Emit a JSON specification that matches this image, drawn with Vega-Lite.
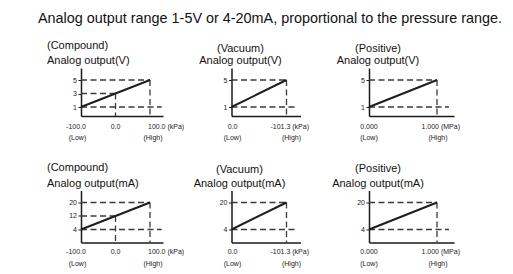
{
  "$schema": "https://vega.github.io/schema/vega-lite/v6.json",
  "padding": {"left": 38, "top": 10, "right": 5, "bottom": 4},
  "title": {"text": "Analog output range 1-5V or 4-20mA, proportional to the pressure range.", "fontSize": 14.4, "anchor": "start", "dx": -43, "offset": 13.5, "color": "#111", "fontWeight": "normal"},
  "columns": 3,
  "bounds": "flush",
  "spacing": {"column": 68.5, "row": 74.5},
  "concat": [
    {
      "width": 82, "height": 48,
      "title": {"text": "(Compound)", "subtitle": "Analog output(V)", "anchor": "start", "align": "left", "dx": -34, "subtitlePadding": 4.5},
      "layer": [
        {"data": {"values": [{"v": 5, "p0": -100, "p1": 100}, {"v": 3, "p0": -100, "p1": 0}, {"v": 1, "p0": -100, "p1": 134}]},
         "mark": {"type": "rule", "strokeDash": [6, 3.5], "strokeWidth": 1.3, "color": "#3a3a3a"},
         "encoding": {"x": {"field": "p0", "type": "quantitative", "title": null, "scale": {"domain": [-100, 137.7], "nice": false, "zero": false}}, "x2": {"field": "p1"},
                      "y": {"field": "v", "type": "quantitative", "title": null, "scale": {"domain": [-0.33, 6.78], "nice": false, "zero": false}, "axis": {"values": [1, 3, 5], "labelOverlap": false}}}},
        {"data": {"values": [{"p": 0, "v": 3}, {"p": 100, "v": 5}]},
         "mark": {"type": "rule", "strokeDash": [6, 3.5], "strokeWidth": 1.3, "color": "#3a3a3a"},
         "encoding": {"x": {"field": "p", "type": "quantitative", "title": null}, "y": {"field": "v", "type": "quantitative", "title": null, "axis": {"values": [1, 3, 5], "labelOverlap": false}}, "y2": {"value": "height"}}},
        {"data": {"values": [{"p": -100, "v": 1}, {"p": 100, "v": 5}]},
         "mark": {"type": "line", "color": "#1e1e1e", "strokeWidth": 2},
         "encoding": {"x": {"field": "p", "type": "quantitative", "title": null}, "y": {"field": "v", "type": "quantitative", "title": null, "axis": {"values": [1, 3, 5], "labelOverlap": false}}}},
        {"data": {"values": [{"p": -100, "t": "-100.0"}]},
         "mark": {"type": "text", "fontSize": 7, "color": "#222", "baseline": "middle", "align": "center", "dx": -5, "dy": 10.5},
         "encoding": {"x": {"field": "p", "type": "quantitative", "title": null}, "y": {"value": "height"}, "text": {"field": "t"}}},
        {"data": {"values": [{"p": 0, "t": "0.0"}]},
         "mark": {"type": "text", "fontSize": 7, "color": "#222", "baseline": "middle", "align": "center", "dy": 10.5},
         "encoding": {"x": {"field": "p", "type": "quantitative", "title": null}, "y": {"value": "height"}, "text": {"field": "t"}}},
        {"data": {"values": [{"p": 100, "t": "100.0 (kPa)"}]},
         "mark": {"type": "text", "fontSize": 7, "color": "#222", "baseline": "middle", "align": "left", "dx": -2, "dy": 10.5},
         "encoding": {"x": {"field": "p", "type": "quantitative", "title": null}, "y": {"value": "height"}, "text": {"field": "t"}}},
        {"data": {"values": [{"p": -100, "t": "(Low)"}]},
         "mark": {"type": "text", "fontSize": 7, "color": "#222", "baseline": "middle", "align": "center", "dx": -3.5, "dy": 22},
         "encoding": {"x": {"field": "p", "type": "quantitative", "title": null}, "y": {"value": "height"}, "text": {"field": "t"}}},
        {"data": {"values": [{"p": 100, "t": "(High)"}]},
         "mark": {"type": "text", "fontSize": 7, "color": "#222", "baseline": "middle", "align": "center", "dx": 3, "dy": 22},
         "encoding": {"x": {"field": "p", "type": "quantitative", "title": null}, "y": {"value": "height"}, "text": {"field": "t"}}}
      ]
    },
    {
      "width": 69, "height": 48,
      "title": {"text": "(Vacuum)", "subtitle": "Analog output(V)", "anchor": "start", "align": "center", "dx": 9, "subtitlePadding": 1},
      "layer": [
        {"data": {"values": [{"v": 5, "p0": 0, "p1": -101.3}, {"v": 1, "p0": 0, "p1": -121.6}]},
         "mark": {"type": "rule", "strokeDash": [6, 3.5], "strokeWidth": 1.3, "color": "#3a3a3a"},
         "encoding": {"x": {"field": "p0", "type": "quantitative", "title": null, "scale": {"domain": [0, -127.1], "nice": false, "zero": false}}, "x2": {"field": "p1"},
                      "y": {"field": "v", "type": "quantitative", "title": null, "scale": {"domain": [-0.33, 6.78], "nice": false, "zero": false}, "axis": {"values": [1, 5], "labelOverlap": false}}}},
        {"data": {"values": [{"p": -101.3, "v": 5}]},
         "mark": {"type": "rule", "strokeDash": [6, 3.5], "strokeWidth": 1.3, "color": "#3a3a3a"},
         "encoding": {"x": {"field": "p", "type": "quantitative", "title": null}, "y": {"field": "v", "type": "quantitative", "title": null, "axis": {"values": [1, 5], "labelOverlap": false}}, "y2": {"value": "height"}}},
        {"data": {"values": [{"p": 0, "v": 1}, {"p": -101.3, "v": 5}]},
         "mark": {"type": "line", "color": "#1e1e1e", "strokeWidth": 2},
         "encoding": {"x": {"field": "p", "type": "quantitative", "title": null}, "y": {"field": "v", "type": "quantitative", "title": null, "axis": {"values": [1, 5], "labelOverlap": false}}}},
        {"data": {"values": [{"p": 0, "t": "0.0"}]},
         "mark": {"type": "text", "fontSize": 7, "color": "#222", "baseline": "middle", "align": "center", "dx": 1, "dy": 10.5},
         "encoding": {"x": {"field": "p", "type": "quantitative", "title": null}, "y": {"value": "height"}, "text": {"field": "t"}}},
        {"data": {"values": [{"p": -101.3, "t": "-101.3 (kPa)"}]},
         "mark": {"type": "text", "fontSize": 7, "color": "#222", "baseline": "middle", "align": "left", "dx": -16, "dy": 10.5},
         "encoding": {"x": {"field": "p", "type": "quantitative", "title": null}, "y": {"value": "height"}, "text": {"field": "t"}}},
        {"data": {"values": [{"p": 0, "t": "(Low)"}]},
         "mark": {"type": "text", "fontSize": 7, "color": "#222", "baseline": "middle", "align": "center", "dx": 1, "dy": 22},
         "encoding": {"x": {"field": "p", "type": "quantitative", "title": null}, "y": {"value": "height"}, "text": {"field": "t"}}},
        {"data": {"values": [{"p": -101.3, "t": "(High)"}]},
         "mark": {"type": "text", "fontSize": 7, "color": "#222", "baseline": "middle", "align": "center", "dx": 5, "dy": 22},
         "encoding": {"x": {"field": "p", "type": "quantitative", "title": null}, "y": {"value": "height"}, "text": {"field": "t"}}}
      ]
    },
    {
      "width": 85, "height": 48,
      "title": {"text": "(Positive)", "subtitle": "Analog output(V)", "anchor": "start", "align": "center", "dx": 9, "subtitlePadding": 1},
      "layer": [
        {"data": {"values": [{"v": 5, "p0": 0, "p1": 1}, {"v": 1, "p0": 0, "p1": 1.176}]},
         "mark": {"type": "rule", "strokeDash": [6, 3.5], "strokeWidth": 1.3, "color": "#3a3a3a"},
         "encoding": {"x": {"field": "p0", "type": "quantitative", "title": null, "scale": {"domain": [0, 1.25], "nice": false, "zero": false}}, "x2": {"field": "p1"},
                      "y": {"field": "v", "type": "quantitative", "title": null, "scale": {"domain": [-0.33, 6.78], "nice": false, "zero": false}, "axis": {"values": [1, 5], "labelOverlap": false}}}},
        {"data": {"values": [{"p": 1, "v": 5}]},
         "mark": {"type": "rule", "strokeDash": [6, 3.5], "strokeWidth": 1.3, "color": "#3a3a3a"},
         "encoding": {"x": {"field": "p", "type": "quantitative", "title": null}, "y": {"field": "v", "type": "quantitative", "title": null, "axis": {"values": [1, 5], "labelOverlap": false}}, "y2": {"value": "height"}}},
        {"data": {"values": [{"p": 0, "v": 1}, {"p": 1, "v": 5}]},
         "mark": {"type": "line", "color": "#1e1e1e", "strokeWidth": 2},
         "encoding": {"x": {"field": "p", "type": "quantitative", "title": null}, "y": {"field": "v", "type": "quantitative", "title": null, "axis": {"values": [1, 5], "labelOverlap": false}}}},
        {"data": {"values": [{"p": 0, "t": "0.000"}]},
         "mark": {"type": "text", "fontSize": 7, "color": "#222", "baseline": "middle", "align": "center", "dy": 10.5},
         "encoding": {"x": {"field": "p", "type": "quantitative", "title": null}, "y": {"value": "height"}, "text": {"field": "t"}}},
        {"data": {"values": [{"p": 1, "t": "1.000 (MPa)"}]},
         "mark": {"type": "text", "fontSize": 7, "color": "#222", "baseline": "middle", "align": "left", "dx": -15.5, "dy": 10.5},
         "encoding": {"x": {"field": "p", "type": "quantitative", "title": null}, "y": {"value": "height"}, "text": {"field": "t"}}},
        {"data": {"values": [{"p": 0, "t": "(Low)"}]},
         "mark": {"type": "text", "fontSize": 7, "color": "#222", "baseline": "middle", "align": "center", "dy": 22},
         "encoding": {"x": {"field": "p", "type": "quantitative", "title": null}, "y": {"value": "height"}, "text": {"field": "t"}}},
        {"data": {"values": [{"p": 1, "t": "(High)"}]},
         "mark": {"type": "text", "fontSize": 7, "color": "#222", "baseline": "middle", "align": "center", "dx": 1, "dy": 22},
         "encoding": {"x": {"field": "p", "type": "quantitative", "title": null}, "y": {"value": "height"}, "text": {"field": "t"}}}
      ]
    },
    {
      "width": 82, "height": 52,
      "title": {"text": "(Compound)", "subtitle": "Analog output(mA)", "anchor": "start", "align": "left", "dx": -34, "subtitlePadding": 4.5},
      "layer": [
        {"data": {"values": [{"v": 20, "p0": -100, "p1": 100}, {"v": 12, "p0": -100, "p1": 0}, {"v": 4, "p0": -100, "p1": 134}]},
         "mark": {"type": "rule", "strokeDash": [6, 3.5], "strokeWidth": 1.3, "color": "#3a3a3a"},
         "encoding": {"x": {"field": "p0", "type": "quantitative", "title": null, "scale": {"domain": [-100, 137.7], "nice": false, "zero": false}}, "x2": {"field": "p1"},
                      "y": {"field": "v", "type": "quantitative", "title": null, "scale": {"domain": [-3.7, 27.1], "nice": false, "zero": false}, "axis": {"values": [4, 12, 20], "labelOverlap": false}}}},
        {"data": {"values": [{"p": 0, "v": 12}, {"p": 100, "v": 20}]},
         "mark": {"type": "rule", "strokeDash": [6, 3.5], "strokeWidth": 1.3, "color": "#3a3a3a"},
         "encoding": {"x": {"field": "p", "type": "quantitative", "title": null}, "y": {"field": "v", "type": "quantitative", "title": null, "axis": {"values": [4, 12, 20], "labelOverlap": false}}, "y2": {"value": "height"}}},
        {"data": {"values": [{"p": -100, "v": 4}, {"p": 100, "v": 20}]},
         "mark": {"type": "line", "color": "#1e1e1e", "strokeWidth": 2},
         "encoding": {"x": {"field": "p", "type": "quantitative", "title": null}, "y": {"field": "v", "type": "quantitative", "title": null, "axis": {"values": [4, 12, 20], "labelOverlap": false}}}},
        {"data": {"values": [{"p": -100, "t": "-100.0"}]},
         "mark": {"type": "text", "fontSize": 7, "color": "#222", "baseline": "middle", "align": "center", "dx": -5, "dy": 9.5},
         "encoding": {"x": {"field": "p", "type": "quantitative", "title": null}, "y": {"value": "height"}, "text": {"field": "t"}}},
        {"data": {"values": [{"p": 0, "t": "0.0"}]},
         "mark": {"type": "text", "fontSize": 7, "color": "#222", "baseline": "middle", "align": "center", "dy": 9.5},
         "encoding": {"x": {"field": "p", "type": "quantitative", "title": null}, "y": {"value": "height"}, "text": {"field": "t"}}},
        {"data": {"values": [{"p": 100, "t": "100.0 (kPa)"}]},
         "mark": {"type": "text", "fontSize": 7, "color": "#222", "baseline": "middle", "align": "left", "dx": -2, "dy": 9.5},
         "encoding": {"x": {"field": "p", "type": "quantitative", "title": null}, "y": {"value": "height"}, "text": {"field": "t"}}},
        {"data": {"values": [{"p": -100, "t": "(Low)"}]},
         "mark": {"type": "text", "fontSize": 7, "color": "#222", "baseline": "middle", "align": "center", "dx": -3.5, "dy": 21.5},
         "encoding": {"x": {"field": "p", "type": "quantitative", "title": null}, "y": {"value": "height"}, "text": {"field": "t"}}},
        {"data": {"values": [{"p": 100, "t": "(High)"}]},
         "mark": {"type": "text", "fontSize": 7, "color": "#222", "baseline": "middle", "align": "center", "dx": 3, "dy": 21.5},
         "encoding": {"x": {"field": "p", "type": "quantitative", "title": null}, "y": {"value": "height"}, "text": {"field": "t"}}}
      ]
    },
    {
      "width": 69, "height": 52,
      "title": {"text": "(Vacuum)", "subtitle": "Analog output(mA)", "anchor": "start", "align": "center", "dx": 8, "subtitlePadding": 2.5},
      "layer": [
        {"data": {"values": [{"v": 20, "p0": 0, "p1": -101.3}, {"v": 4, "p0": 0, "p1": -121.6}]},
         "mark": {"type": "rule", "strokeDash": [6, 3.5], "strokeWidth": 1.3, "color": "#3a3a3a"},
         "encoding": {"x": {"field": "p0", "type": "quantitative", "title": null, "scale": {"domain": [0, -127.1], "nice": false, "zero": false}}, "x2": {"field": "p1"},
                      "y": {"field": "v", "type": "quantitative", "title": null, "scale": {"domain": [-3.7, 27.1], "nice": false, "zero": false}, "axis": {"values": [4, 20], "labelOverlap": false}}}},
        {"data": {"values": [{"p": -101.3, "v": 20}]},
         "mark": {"type": "rule", "strokeDash": [6, 3.5], "strokeWidth": 1.3, "color": "#3a3a3a"},
         "encoding": {"x": {"field": "p", "type": "quantitative", "title": null}, "y": {"field": "v", "type": "quantitative", "title": null, "axis": {"values": [4, 20], "labelOverlap": false}}, "y2": {"value": "height"}}},
        {"data": {"values": [{"p": 0, "v": 4}, {"p": -101.3, "v": 20}]},
         "mark": {"type": "line", "color": "#1e1e1e", "strokeWidth": 2},
         "encoding": {"x": {"field": "p", "type": "quantitative", "title": null}, "y": {"field": "v", "type": "quantitative", "title": null, "axis": {"values": [4, 20], "labelOverlap": false}}}},
        {"data": {"values": [{"p": 0, "t": "0.0"}]},
         "mark": {"type": "text", "fontSize": 7, "color": "#222", "baseline": "middle", "align": "center", "dx": 1, "dy": 9.5},
         "encoding": {"x": {"field": "p", "type": "quantitative", "title": null}, "y": {"value": "height"}, "text": {"field": "t"}}},
        {"data": {"values": [{"p": -101.3, "t": "-101.3 (kPa)"}]},
         "mark": {"type": "text", "fontSize": 7, "color": "#222", "baseline": "middle", "align": "left", "dx": -16, "dy": 9.5},
         "encoding": {"x": {"field": "p", "type": "quantitative", "title": null}, "y": {"value": "height"}, "text": {"field": "t"}}},
        {"data": {"values": [{"p": 0, "t": "(Low)"}]},
         "mark": {"type": "text", "fontSize": 7, "color": "#222", "baseline": "middle", "align": "center", "dx": 1, "dy": 21.5},
         "encoding": {"x": {"field": "p", "type": "quantitative", "title": null}, "y": {"value": "height"}, "text": {"field": "t"}}},
        {"data": {"values": [{"p": -101.3, "t": "(High)"}]},
         "mark": {"type": "text", "fontSize": 7, "color": "#222", "baseline": "middle", "align": "center", "dx": 5, "dy": 21.5},
         "encoding": {"x": {"field": "p", "type": "quantitative", "title": null}, "y": {"value": "height"}, "text": {"field": "t"}}}
      ]
    },
    {
      "width": 85, "height": 52,
      "title": {"text": "(Positive)", "subtitle": "Analog output(mA)", "anchor": "start", "align": "center", "dx": 9, "subtitlePadding": 3.5},
      "layer": [
        {"data": {"values": [{"v": 20, "p0": 0, "p1": 1}, {"v": 4, "p0": 0, "p1": 1.176}]},
         "mark": {"type": "rule", "strokeDash": [6, 3.5], "strokeWidth": 1.3, "color": "#3a3a3a"},
         "encoding": {"x": {"field": "p0", "type": "quantitative", "title": null, "scale": {"domain": [0, 1.25], "nice": false, "zero": false}}, "x2": {"field": "p1"},
                      "y": {"field": "v", "type": "quantitative", "title": null, "scale": {"domain": [-3.7, 27.1], "nice": false, "zero": false}, "axis": {"values": [4, 20], "labelOverlap": false}}}},
        {"data": {"values": [{"p": 1, "v": 20}]},
         "mark": {"type": "rule", "strokeDash": [6, 3.5], "strokeWidth": 1.3, "color": "#3a3a3a"},
         "encoding": {"x": {"field": "p", "type": "quantitative", "title": null}, "y": {"field": "v", "type": "quantitative", "title": null, "axis": {"values": [4, 20], "labelOverlap": false}}, "y2": {"value": "height"}}},
        {"data": {"values": [{"p": 0, "v": 4}, {"p": 1, "v": 20}]},
         "mark": {"type": "line", "color": "#1e1e1e", "strokeWidth": 2},
         "encoding": {"x": {"field": "p", "type": "quantitative", "title": null}, "y": {"field": "v", "type": "quantitative", "title": null, "axis": {"values": [4, 20], "labelOverlap": false}}}},
        {"data": {"values": [{"p": 0, "t": "0.000"}]},
         "mark": {"type": "text", "fontSize": 7, "color": "#222", "baseline": "middle", "align": "center", "dy": 9.5},
         "encoding": {"x": {"field": "p", "type": "quantitative", "title": null}, "y": {"value": "height"}, "text": {"field": "t"}}},
        {"data": {"values": [{"p": 1, "t": "1.000 (MPa)"}]},
         "mark": {"type": "text", "fontSize": 7, "color": "#222", "baseline": "middle", "align": "left", "dx": -15.5, "dy": 9.5},
         "encoding": {"x": {"field": "p", "type": "quantitative", "title": null}, "y": {"value": "height"}, "text": {"field": "t"}}},
        {"data": {"values": [{"p": 0, "t": "(Low)"}]},
         "mark": {"type": "text", "fontSize": 7, "color": "#222", "baseline": "middle", "align": "center", "dy": 21.5},
         "encoding": {"x": {"field": "p", "type": "quantitative", "title": null}, "y": {"value": "height"}, "text": {"field": "t"}}},
        {"data": {"values": [{"p": 1, "t": "(High)"}]},
         "mark": {"type": "text", "fontSize": 7, "color": "#222", "baseline": "middle", "align": "center", "dx": 1, "dy": 21.5},
         "encoding": {"x": {"field": "p", "type": "quantitative", "title": null}, "y": {"value": "height"}, "text": {"field": "t"}}}
      ]
    }
  ],
  "config": {
    "font": "Liberation Sans",
    "view": {"stroke": null},
    "title": {"fontSize": 11, "subtitleFontSize": 11, "fontWeight": "normal", "color": "#111", "subtitleColor": "#111", "frame": "group", "offset": 2, "font": "Liberation Sans", "subtitleFont": "Liberation Sans"},
    "axisX": {"labels": false, "ticks": false, "grid": false, "domainColor": "#1a1a1a", "domainWidth": 1.5},
    "axisY": {"grid": false, "ticks": true, "tickSize": 3, "tickColor": "#1a1a1a", "tickWidth": 1, "domainColor": "#1a1a1a", "domainWidth": 1.5, "labelFontSize": 7, "labelColor": "#222", "labelPadding": 1.5, "labelFont": "Liberation Sans", "labelOverlap": false}
  }
}
